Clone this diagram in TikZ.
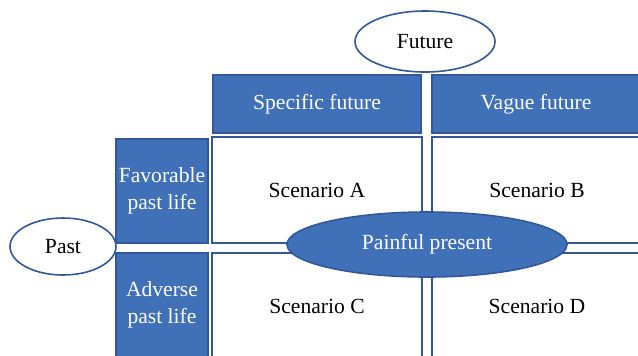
\documentclass[tikz,border=0pt]{standalone}
\usepackage{fontspec}
\setmainfont{Liberation Serif}
\usepackage{xcolor}
\usetikzlibrary{positioning}
\usetikzlibrary{shapes.geometric}

\definecolor{boxblue}{RGB}{64,112,184}
\definecolor{lineblue}{RGB}{50,88,154}

\begin{document}
\begin{tikzpicture}[x=0.5pt, y=-0.5pt,
        every node/.style={font=\fontsize{10.8}{13.5}\selectfont, inner sep=0pt, outer sep=0pt},
        headbox/.style={draw=lineblue, fill=boxblue, text=white, semithick, align=center},
        cellbox/.style={draw=lineblue, fill=white, thick, minimum width=105pt, minimum height=53pt},
        oval/.style={ellipse, draw=lineblue, thick, fill=white}]
            \useasboundingbox(0, 0) rectangle (638, 355);

            % column headers
            \node[headbox, minimum width=104pt, minimum height=29pt](specific) at (317, 104){Specific future};
            \node[headbox, minimum width=104pt, minimum height=29pt](vague) at (536, 104){Vague future};

            % row headers
            \node[headbox, minimum width=46pt, minimum height=52pt](favorable) at (162, 191){Favorable\\past life};
            \node[headbox, minimum width=46pt, minimum height=52pt](adverse) at (162, 305){Adverse\\past life};

            % scenarios
            \node[cellbox](scenA) at (317, 190){Scenario A};
            \node[cellbox](scenB) at (537, 190){Scenario B};
            \node[cellbox](scenC) at (317, 306){Scenario C};
            \node[cellbox](scenD) at (537, 306){Scenario D};

            % time ovals
            \node[oval, minimum width=70pt, minimum height=30.5pt](future) at (425, 41.5){Future};
            \node[oval, minimum width=53pt, minimum height=28.5pt](past) at (63, 246.5){Past};
            \node[oval, fill=boxblue, text=white, minimum width=140pt, minimum height=32.5pt](present) at (427, 244.5){Painful present};
        \end{tikzpicture}
\end{document}
